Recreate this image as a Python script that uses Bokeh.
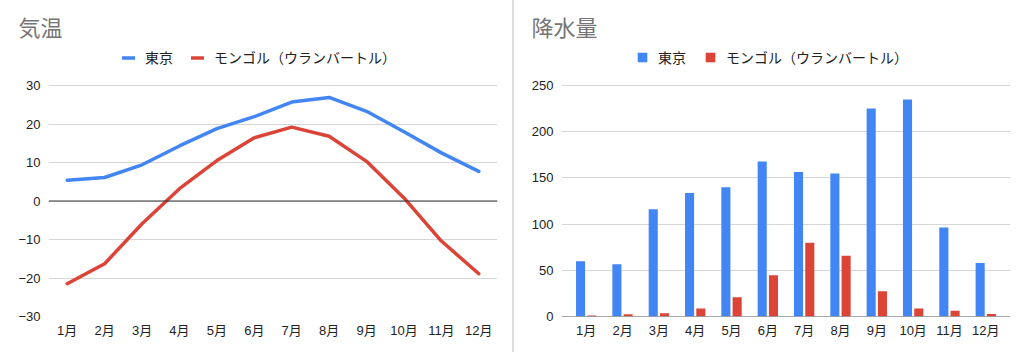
from bokeh.plotting import figure
from bokeh.layouts import row
from bokeh.models import (Legend, LegendItem, Span, Div, FactorRange, FixedTicker,
                          ColumnDataSource)
from bokeh.transform import dodge
from bokeh.embed import file_html
from bokeh.resources import INLINE

# ---- data ----
months = ["1月", "2月", "3月", "4月", "5月", "6月", "7月", "8月", "9月", "10月", "11月", "12月"]
tokyo_temp = [5.4, 6.1, 9.4, 14.3, 18.8, 21.9, 25.7, 26.9, 23.3, 18.0, 12.5, 7.7]
mongol_temp = [-21.5, -16.3, -5.9, 3.2, 10.5, 16.4, 19.2, 16.8, 10.3, 0.8, -10.4, -18.9]
tokyo_rain = [59.7, 56.5, 116.0, 133.7, 139.7, 167.8, 156.2, 154.7, 224.9, 234.8, 96.3, 57.9]
mongol_rain = [1.0, 2.5, 3.6, 8.6, 20.9, 44.6, 79.8, 65.8, 27.4, 8.6, 6.1, 2.6]
temp_ticks = [-30, -20, -10, 0, 10, 20, 30]
rain_ticks = [0, 50, 100, 150, 200, 250]
series_names = ["東京", "モンゴル（ウランバートル）"]
titles = ["気温", "降水量"]

BLUE = "#4285F4"
RED = "#DB4437"
FONT = "'Liberation Sans', 'Noto Sans CJK JP', sans-serif"

# frame spans y=40..316 px; data 30 sits at y=85 -> extra headroom for the legend
TEMP_RANGE = (-30, 30 + 45 / 3.85)
RAIN_RANGE = (0, 250 + 45 / 0.9268)


def style(p, title):
    p.outline_line_color = None
    p.xgrid.grid_line_color = None
    p.ygrid.grid_line_color = "#d6d6d6"
    p.ygrid.grid_line_width = 1
    for ax in p.axis:
        ax.axis_line_color = None
        ax.major_tick_line_color = None
        ax.minor_tick_line_color = None
        ax.major_tick_out = 0
        ax.major_tick_in = 0
        ax.major_label_text_font = FONT
        ax.major_label_text_font_size = "13px"
        ax.major_label_text_color = "#222222"
    p.xaxis.major_label_standoff = 6
    p.yaxis.major_label_standoff = 8
    p.title.text = title
    p.title.text_font = FONT
    p.title.text_font_size = "22px"
    p.title.text_font_style = "normal"
    p.title.text_color = "#757575"
    p.title.align = "left"
    p.title.offset = -30
    p.title.standoff = 0


def make_legend(items, x, y, glyph_w, glyph_h):
    lg = Legend(items=items, orientation="horizontal", location=(x, y),
                label_text_font=FONT, label_text_font_size="14px",
                label_text_color="#222222", glyph_width=glyph_w, glyph_height=glyph_h,
                spacing=18, label_standoff=10, padding=0, margin=0,
                border_line_color=None, background_fill_alpha=0)
    return lg


# ---- left: temperature ----
p1 = figure(width=512, height=355, x_range=months, y_range=TEMP_RANGE,
            output_backend="svg", toolbar_location=None,
            min_border_left=48, min_border_right=15, min_border_bottom=39, min_border_top=40)
style(p1, titles[0])
p1.yaxis.ticker = FixedTicker(ticks=temp_ticks)
p1.add_layout(Span(location=0, dimension="width", line_color="#333333", line_width=1))
r1 = p1.line(months, tokyo_temp, line_color=BLUE, line_width=3.5, line_join="round", line_cap="round")
r2 = p1.line(months, mongol_temp, line_color=RED, line_width=3.5, line_join="round", line_cap="round")
lg1 = make_legend([LegendItem(label=series_names[0], renderers=[r1]),
                   LegendItem(label=series_names[1], renderers=[r2])], 74, 249, 13, 13)
p1.add_layout(lg1, "center")

# ---- right: precipitation ----
src = ColumnDataSource(dict(month=months, tokyo=tokyo_rain, mongol=mongol_rain))
xr = FactorRange(factors=months, range_padding=0.03, range_padding_units="percent")
p2 = figure(width=510, height=355, x_range=xr, y_range=RAIN_RANGE,
            output_backend="svg", toolbar_location=None,
            min_border_left=47, min_border_right=14, min_border_bottom=39, min_border_top=40)
style(p2, titles[1])
p2.yaxis.ticker = FixedTicker(ticks=rain_ticks)
b1 = p2.vbar(x=dodge("month", -0.155, range=xr), top="tokyo", width=0.25, source=src,
             fill_color=BLUE, line_color=None)
b2 = p2.vbar(x=dodge("month", 0.155, range=xr), top="mongol", width=0.25, source=src,
             fill_color=RED, line_color=None)
p2.add_layout(Span(location=0, dimension="width", line_color="#555555", line_width=1))
lg2 = make_legend([LegendItem(label=series_names[0], renderers=[b1]),
                   LegendItem(label=series_names[1], renderers=[b2])], 75, 249, 12, 12)
p2.add_layout(lg2, "center")

divider = Div(text="", width=2, height=352, margin=0,
              styles={"background-color": "#dcdcdc"})

layout = row(p1, divider, p2, spacing=0)
open("out.html", "w").write(file_html(layout, INLINE))
